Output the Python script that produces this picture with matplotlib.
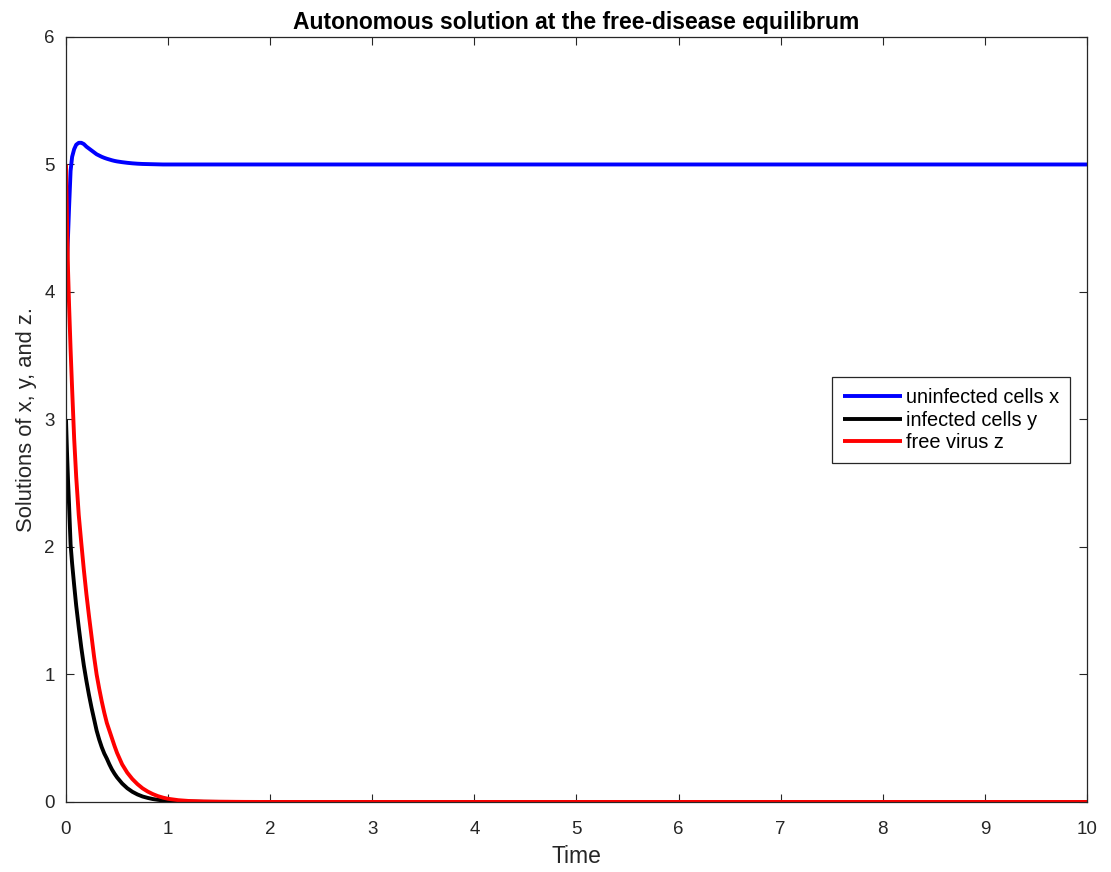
import matplotlib
matplotlib.use("Agg")
import matplotlib.pyplot as plt

plt.rcParams['font.family'] = ['Liberation Sans', 'DejaVu Sans']

t = [0, 0.01, 0.02, 0.03, 0.045, 0.06, 0.08, 0.1, 0.125, 0.15, 0.175, 0.2,
     0.225, 0.25, 0.275, 0.3, 0.325, 0.35, 0.375, 0.4, 0.425, 0.45, 0.475, 0.5,
     0.55, 0.6, 0.65, 0.7, 0.75, 0.8, 0.85, 0.9, 0.95, 1.0, 1.1, 1.2, 1.35, 1.5, 1.75, 2.0,
     3, 4, 5, 6, 7, 8, 9, 10]

x_uninfected = [4.0, 4.24, 4.44, 4.66, 4.95, 5.06, 5.12, 5.155, 5.17, 5.17, 5.16, 5.14,
                5.125, 5.11, 5.095, 5.08, 5.07, 5.06, 5.052, 5.045, 5.039, 5.033, 5.028, 5.024,
                5.018, 5.013, 5.009, 5.006, 5.004, 5.003, 5.002, 5.001, 5.0, 5.0, 5.0, 5.0, 5.0, 5.0, 5.0, 5.0,
                5.0, 5.0, 5.0, 5.0, 5.0, 5.0, 5.0, 5.0]

y_infected = [3.0, 2.74, 2.52, 2.33, 2.02, 1.87, 1.70, 1.54, 1.37, 1.21, 1.07, 0.95,
              0.84, 0.74, 0.65, 0.56, 0.49, 0.43, 0.38, 0.34, 0.295, 0.255, 0.222, 0.193,
              0.145, 0.108, 0.08, 0.059, 0.043, 0.032, 0.023, 0.017, 0.012, 0.009, 0.005, 0.003, 0.0012, 0.0005, 0.0001, 0.0,
              0.0, 0.0, 0.0, 0.0, 0.0, 0.0, 0.0, 0.0]

z_virus = [5.0, 4.55, 4.17, 3.90, 3.55, 3.24, 2.85, 2.55, 2.25, 2.03, 1.82, 1.63,
           1.46, 1.30, 1.14, 1.0, 0.89, 0.79, 0.70, 0.62, 0.56, 0.50, 0.44, 0.385,
           0.295, 0.23, 0.18, 0.14, 0.107, 0.082, 0.062, 0.046, 0.034, 0.025, 0.014, 0.008, 0.004, 0.002, 0.0006, 0.0,
           0.0, 0.0, 0.0, 0.0, 0.0, 0.0, 0.0, 0.0]

labels = ['uninfected cells x', 'infected cells y', 'free virus z']
colors = ['#0000ff', '#000000', '#ff0000']
xticks = list(range(0, 11))
yticks = list(range(0, 7))

fig = plt.figure(figsize=(11.11, 8.72), dpi=100)
ax = fig.add_axes([0.0594, 0.0803, 0.919, 0.8773])

for data, lab, col in zip([x_uninfected, y_infected, z_virus], labels, colors):
    ax.plot(t, data, color=col, lw=2.8, label=lab, solid_joinstyle='round',
            solid_capstyle='butt')

ax.set_xlim(0, 10)
ax.set_ylim(0, 6)
ax.set_xticks(xticks)
ax.set_yticks(yticks)
axc = '#262626'
ax.tick_params(direction='in', top=True, right=True, length=6, width=0.8,
               labelsize=13.5, colors=axc)
ax.tick_params(axis='x', pad=14)
ax.tick_params(axis='y', pad=8)
for s in ax.spines.values():
    s.set_color(axc)
    s.set_linewidth(0.9)

ax.set_title('Autonomous solution at the free-disease equilibrum', fontsize=16.5,
             fontweight='bold', pad=6)
ax.set_xlabel('Time', fontsize=16.5, color=axc, labelpad=5)
ax.set_ylabel('Solutions of x, y, and z.', fontsize=15.8, color=axc, labelpad=5)

leg = ax.legend(loc='upper left', bbox_to_anchor=(0.75, 0.5556), borderaxespad=0,
                fontsize=14.4, handlelength=2.95, handletextpad=0.2, fancybox=False,
                edgecolor=axc, framealpha=1, borderpad=0.55, labelspacing=0.18)
leg.get_frame().set_linewidth(0.9)

fig.savefig('out.png', dpi=100)
